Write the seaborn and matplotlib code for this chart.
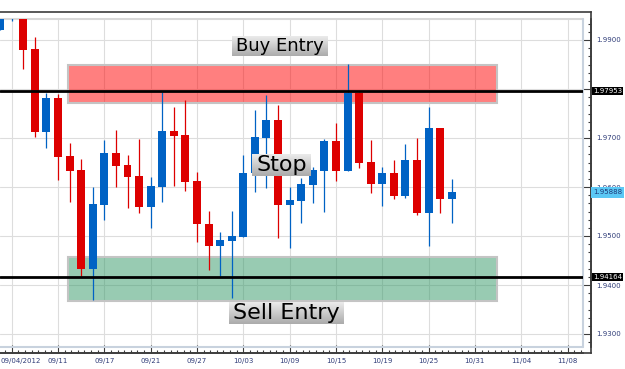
import numpy as np
import pandas as pd
import matplotlib.pyplot as plt
import seaborn as sns
from matplotlib.patches import Rectangle
from matplotlib.ticker import MultipleLocator
from matplotlib.colors import LinearSegmentedColormap

# daily GBP/USD candles, first one sits at the left edge (index -1)
opens = [1.99204, 1.99714, 1.99531, 1.98816, 1.97122, 1.97816, 1.96633, 1.96347,
         1.94333, 1.95633, 1.96694, 1.96449, 1.96224, 1.95598, 1.96006, 1.97143,
         1.97061, 1.96122, 1.95245, 1.94802, 1.94904, 1.94986, 1.96280, 1.97006,
         1.97367, 1.95639, 1.95720, 1.96047, 1.96333, 1.96939, 1.96333, 1.97924,
         1.96510, 1.96067, 1.96286, 1.95822, 1.96551, 1.95476, 1.97204, 1.95761]
highs = [1.99429, 1.99980, 1.99653, 1.99061, 1.97918, 1.97898, 1.96898, 1.96571,
         1.96000, 1.96959, 1.97163, 1.96653, 1.96980, 1.96204, 1.97945, 1.97639,
         1.97776, 1.96306, 1.95510, 1.95082, 1.95510, 1.96653, 1.97571, 1.97878,
         1.97673, 1.96006, 1.96184, 1.96408, 1.96980, 1.97312, 1.98510, 1.97939,
         1.96959, 1.96408, 1.96551, 1.96878, 1.97000, 1.97633, 1.97204, 1.96163]
lows = [1.99204, 1.99388, 1.98408, 1.97020, 1.96796, 1.96143, 1.95700, 1.94184,
        1.93694, 1.95327, 1.96006, 1.95578, 1.95476, 1.95169, 1.95700, 1.96027,
        1.95924, 1.94884, 1.94306, 1.94184, 1.93741, 1.94986, 1.95892, 1.95973,
        1.94965, 1.94761, 1.95259, 1.95667, 1.95496, 1.96129, 1.96333, 1.96394,
        1.95884, 1.95618, 1.95761, 1.95782, 1.95435, 1.94802, 1.95476, 1.95271]
closes = [1.99429, 1.99918, 1.98796, 1.97122, 1.97816, 1.96612, 1.96333, 1.94333,
          1.95653, 1.96694, 1.96435, 1.96210, 1.95598, 1.96020, 1.97143, 1.97047,
          1.96108, 1.95235, 1.94802, 1.94918, 1.95000, 1.96286, 1.97020, 1.97367,
          1.95639, 1.95735, 1.96061, 1.96347, 1.96939, 1.96333, 1.97924, 1.96496,
          1.96067, 1.96286, 1.95822, 1.96551, 1.95476, 1.97204, 1.95761, 1.95888]

date_labels = ["09/04/2012", "09/11", "09/17", "09/21", "09/27", "10/03", "10/09",
               "10/15", "10/19", "10/25", "10/31", "11/04", "11/08"]
price_ticks = [1.93, 1.94, 1.95, 1.96, 1.97, 1.98, 1.99]
# 1.9800 sits under the 1.97953 tag in the source, so it is not printed
price_labels = ["1.9300", "1.9400", "1.9500", "1.9600", "1.9700", "", "1.9900"]

levels = [1.97953, 1.94164]
last_price = 1.95888
buy_zone = [1.97714, 1.98490]
sell_zone = [1.93680, 1.94565]
zone_span = [4.85, 41.9]
notes = ["Buy Entry", "Stop", "Sell Entry"]

df = pd.DataFrame(dict(open=opens, high=highs, low=lows, close=closes))
df["x"] = np.arange(len(df)) - 1
df["up"] = df["close"] >= df["open"]

RED = "#DD0000"
BLUE = "#0062C4"

sns.set_style("white")
plt.rcParams["font.family"] = ["DejaVu Sans"]

W, H = 625, 369
fig = plt.figure(figsize=(W / 100, H / 100), dpi=100)

# outer dark frame
frame = fig.add_axes([0, 16 / H, 591 / W, 341 / H])
frame.set_xticks([])
frame.set_yticks([])
for s in frame.spines.values():
    s.set_color("#3c3c3c")
    s.set_linewidth(1.2)
frame.spines["left"].set_visible(False)

# inner plotting area
ax = fig.add_axes([0, 22 / H, 583 / W, 328 / H])
ax.patch.set_alpha(0)
ax.set_axisbelow(True)

colors = np.where(df["up"], BLUE, RED)
ax.vlines(df["x"], df["low"], df["high"], colors=colors, lw=0.9, zorder=3)
body = (df["close"] - df["open"]).abs().clip(lower=0.0002)
ax.bar(df["x"], body, bottom=df[["open", "close"]].min(axis=1), width=0.69,
       color=colors, linewidth=0, zorder=3)

ax.add_patch(Rectangle((zone_span[0], buy_zone[0]), zone_span[1] - zone_span[0],
                       buy_zone[1] - buy_zone[0], fc=(1, 0, 0, 0.5),
                       ec="#C4C4C4", lw=1.5, zorder=2))
ax.add_patch(Rectangle((zone_span[0], sell_zone[0]), zone_span[1] - zone_span[0],
                       sell_zone[1] - sell_zone[0], fc=(0.2, 0.6, 0.4, 0.5),
                       ec="#C4C4C4", lw=1.5, zorder=2))

for lv in levels:
    ax.axhline(lv, color="black", lw=2, zorder=4)

xlim = (-11.7 / 11.58, (583 - 11.7) / 11.58)
ylim = (1.99 - 307 / 4900, 1.99 + 21 / 4900)
ax.set_xlim(xlim)
ax.set_ylim(ylim)

# ticks
ax.yaxis.tick_right()
ax.xaxis.tick_bottom()
ax.set_yticks(price_ticks)
ax.set_yticklabels(price_labels)
ax.yaxis.set_minor_locator(MultipleLocator(0.01 / 6))
ax.set_xticks(range(0, 4 * len(date_labels), 4))
ax.set_xticklabels([""] + date_labels[1:])
ax.xaxis.set_minor_locator(MultipleLocator(4 / 7))
ax.tick_params(which="both", direction="in", color="#3c3c3c", labelcolor="#2F3C78",
               labelsize=5, width=0.8)
ax.tick_params(which="major", length=5.8)
ax.tick_params(which="minor", length=2.4)
ax.tick_params(axis="y", pad=4)
ax.tick_params(axis="x", pad=3.5)
ax.spines["right"].set_position(("outward", 8 * 0.72))
ax.spines["bottom"].set_position(("outward", 6 * 0.72))
ax.spines["top"].set_visible(False)
ax.spines["left"].set_visible(False)
for s in ["right", "bottom"]:
    ax.spines[s].set_color("#3c3c3c")
    ax.spines[s].set_linewidth(1.2)
ax.grid(True, which="major", color="#DDDDDD", lw=0.8)

ax.annotate(date_labels[0], xy=(0, 0), xycoords="axes fraction", xytext=(0.5, -11),
            textcoords="offset pixels", ha="left", va="top", fontsize=5,
            color="#2F3C78", annotation_clip=False)

# inner border
ax.plot([0, 1], [1, 1], transform=ax.transAxes, color="#D8D8D8", lw=1.5, clip_on=False, zorder=1)
ax.plot([1, 1], [0, 1], transform=ax.transAxes, color="#C8D2DE", lw=1.5, clip_on=False, zorder=1)
ax.plot([0, 1], [0, 0], transform=ax.transAxes, color="#C8D2DE", lw=1.5, clip_on=False, zorder=1)

# price tags on the axis
for lv in levels:
    ax.annotate(f"{lv:.5f}", xy=(1, lv), xycoords=ax.get_yaxis_transform(),
                xytext=(10, 0), textcoords="offset pixels", ha="left", va="center",
                fontsize=5, color="white", annotation_clip=False, zorder=5,
                bbox=dict(boxstyle="square,pad=0.15", fc="black", ec="none"))
ax.annotate(f"{last_price:.5f}", xy=(1, last_price), xycoords=ax.get_yaxis_transform(),
            xytext=(10, 0), textcoords="offset pixels", ha="left", va="center",
            fontsize=5, color="#1E3A78", annotation_clip=False, zorder=5,
            bbox=dict(boxstyle="square,pad=0.3", fc="#5BC8F5", ec="none"))

# grey gradient note boxes
places = [(23.14, 1.98884, 13), (23.3, 1.96443, 16), (23.69, 1.93424, 16)]
texts = []
for s, (nx, ny, size) in zip(notes, places):
    texts.append(ax.text(nx, ny, s, fontsize=size, ha="center", va="center",
                         color="black", zorder=7))

fig.canvas.draw()
renderer = fig.canvas.get_renderer()
inv = ax.transData.inverted()
cmap = LinearSegmentedColormap.from_list("g", ["#EBEBEB", "#ABABAB"])
grad = np.linspace(0, 1, 60).reshape(-1, 1)
for t in texts:
    bb = t.get_window_extent(renderer)
    x0, y0 = inv.transform((bb.x0 - 4, bb.y0 - 1))
    x1, y1 = inv.transform((bb.x1 + 4, bb.y1 + 1))
    ax.imshow(grad, extent=(x0, x1, y0, y1), cmap=cmap, aspect="auto",
              interpolation="bilinear", zorder=6)
ax.set_xlim(xlim)
ax.set_ylim(ylim)

fig.savefig("out.png", dpi=100)
